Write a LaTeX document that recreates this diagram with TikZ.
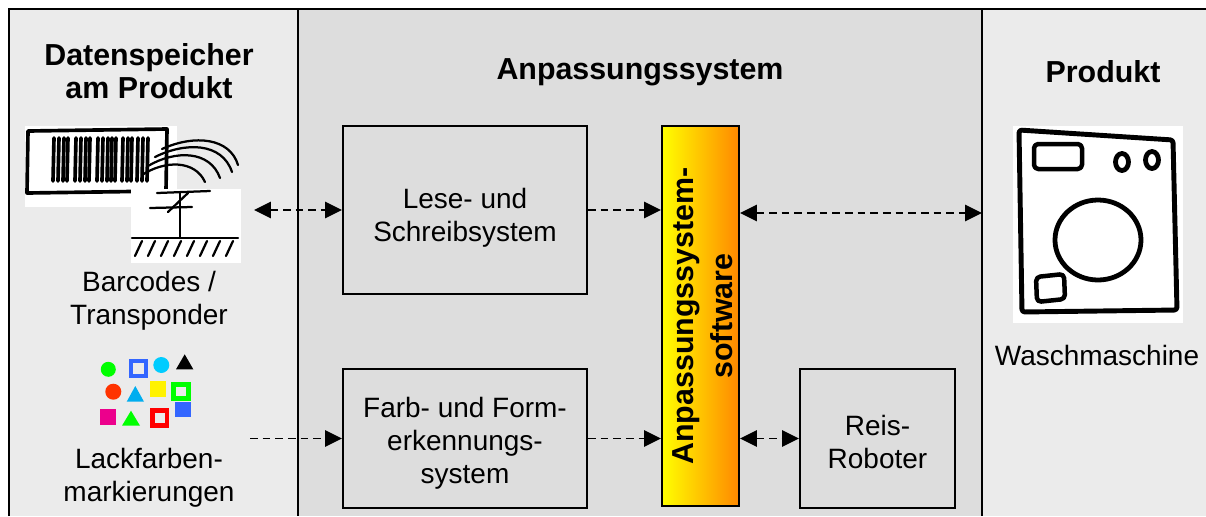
\documentclass[tikz,border=0pt]{standalone}
\usepackage{fontspec}
\setmainfont{Liberation Sans}
\usetikzlibrary{arrows.meta}

\definecolor{sidegray}{HTML}{EBEBEB}
\definecolor{midgray}{HTML}{DDDDDD}
\definecolor{swyellow}{HTML}{FFFF00}
\definecolor{sworange}{HTML}{FF8800}
\definecolor{mkgreen}{HTML}{00FF00}
\definecolor{mkblue}{HTML}{3366FF}
\definecolor{mkcyan}{HTML}{00CCFF}
\definecolor{mkred}{HTML}{FF3300}

\newcommand\normtxt{\fontsize{19.9}{23.4}\selectfont}
\newcommand\headtxt{\fontsize{21.6}{23.4}\selectfont\bfseries}

\begin{document}
\begin{tikzpicture}[x=0.025cm, y=-0.025cm,
  box/.style={draw, line width=1.4pt, fill=midgray, minimum width=6.1cm},
  head/.style={align=center, font=\headtxt, inner sep=0pt},
  lbl/.style={align=center, font=\normtxt, inner sep=0pt},
  dasharrow/.style={line width=1.4pt, dash pattern=on 5.5pt off 3.5pt,
    >={Triangle[length=12pt, width=11.5pt]}},
  sketch/.style={line width=2.1pt, line cap=round, line join=round}]
\useasboundingbox (0,0) rectangle (1206,516);

% columns
\fill[sidegray] (9,9) rectangle (298,516);
\fill[midgray] (298,9) rectangle (982,516);
\fill[sidegray] (982,9) rectangle (1206,516);
\draw[line width=1.4pt] (9,516) -- (9,9) -- (1206,9);
\draw[line width=1.4pt] (298,9) -- (298,516);
\draw[line width=1.4pt] (982,9) -- (982,516);

% headings
\node[head] (hdata) at (149,71) {Datenspeicher\\am Produkt};
\node[head] (hsys) at (640,72) {Anpassungssystem};
\node[head] (hprod) at (1103,72) {Produkt};

% barcode with transponder waves
\fill[white] (25,126) rectangle (177,207);
\draw[sketch, line width=2.6pt] (28,131) -- (167,129) -- (166,191) -- (27,193) -- cycle;
\foreach \bx in {53,58,63,67,75,80,85,89,97,102,107,111,115,122,127,131,137,142,147}
  \draw[sketch, line width=2.6pt] (\bx+1,138) -- (\bx,181);
\draw[sketch, line width=1.6pt] (142,175) .. controls (165,160) and (195,160) .. (205,182);
\draw[sketch, line width=1.6pt] (148,166) .. controls (175,150) and (210,150) .. (220,178);
\draw[sketch, line width=1.6pt] (155,157) .. controls (185,142) and (222,142) .. (232,172);
\draw[sketch, line width=1.6pt] (162,149) .. controls (195,134) and (230,138) .. (238,165);

% antenna
\fill[white] (131,189) rectangle (241,263);
\draw[sketch, line width=1.6pt] (180,192) -- (180,238);
\draw[sketch, line width=1.6pt] (157,193) -- (210,191);
\draw[sketch, line width=1.6pt] (150,208) -- (192,207);
\draw[sketch, line width=1.6pt] (168,212) -- (188,193);
\draw[sketch, line width=1.6pt] (132,238) -- (238,238);
\foreach \hx in {142,155,168,181,194,207,220,233}
  \draw[sketch, line width=1.6pt] (\hx,241) -- (\hx-7,256);
\coordinate (tagout) at (254,210);
\node[lbl] (lbarcode) at (149,301) {Barcodes /\\Transponder};

% paint marks
\fill[mkgreen] (108.3,369.3) circle[radius=7.5];
\draw[mkblue, line width=2.8pt] (131.3,361.3) rectangle (146.3,376.3);
\fill[mkcyan] (161.3,365) circle[radius=8];
\fill[black] (176,369.3) -- (184.7,354.3) -- (193.3,369.3) -- cycle;
\fill[mkred] (113.3,391.7) circle[radius=8];
\fill[cyan] (126.7,401.7) -- (135.3,386) -- (144,401.7) -- cycle;
\fill[yellow] (150,381) rectangle (165.7,396.7);
\fill[mkblue] (175.3,401.7) rectangle (190.7,417.3);
\draw[mkgreen, line width=3.2pt] (173.6,384.3) rectangle (188.4,398.7);
\fill[magenta] (100,409) rectangle (116,425);
\fill[mkgreen] (122,425.7) -- (131,410.7) -- (140,425.7) -- cycle;
\draw[red, line width=3.2pt] (152.3,410.6) rectangle (167,425.4);
\coordinate (lackout) at (250,438.5);
\node[lbl] (llack) at (149,478) {Lackfarben-\\markierungen};

% adaptation system
\node[box, minimum height=4.2cm] (lese) at (465,210) {};
\node[lbl] (lesetxt) at (465,218) {Lese- und\\Schreibsystem};
\node[box, minimum height=3.475cm] (farb) at (465,438.5) {};
\node[lbl] (farbtxt) at (465,443) {Farb- und Form-\\erkennungs-\\system};
\node[draw, line width=1.4pt, left color=swyellow, right color=sworange,
  minimum width=1.925cm, minimum height=9.5cm] (sw) at (700.5,316) {};
\node[rotate=90, align=center, inner sep=0pt,
  font=\fontsize{21.6}{28}\selectfont\bfseries] (swtext) at (703,316) {Anpassungssystem-\\software};
\node[box, minimum width=3.875cm, minimum height=3.475cm] (reis) at (877.5,438.5) {};
\node[lbl] (reistxt) at (877.5,442) {Reis-\\Roboter};

% product
\fill[white] (1013,126) rectangle (1183,323);
\draw[sketch, line width=3.5pt, rounded corners=2pt] (1019,130) -- (1173,140) -- (1177,310) -- (1022,312) -- cycle;
\draw[sketch, line width=3.2pt, rounded corners=3pt] (1034,144) rectangle (1082,169);
\draw[sketch, line width=3.4pt] (1122,162) circle[x radius=6.5, y radius=8.5];
\draw[sketch, line width=3.4pt] (1152,160) circle[x radius=6.5, y radius=8.5];
\draw[sketch, line width=3.4pt] (1098,240) circle[x radius=43, y radius=40];
\draw[sketch, line width=3.2pt, rounded corners=3pt] (1036,277) -- (1064,274) -- (1065,299) -- (1037,302) -- cycle;
\coordinate (prodin) at (982,213);
\node[lbl] (lwasch) at (1097,355) {Waschmaschine};

% connections
\draw[dasharrow, <->] (tagout) -- (lese.west);
\draw[dasharrow, ->] (lese.east) -- (lese -| sw.west);
\draw[dasharrow, <->] (prodin -| sw.east) -- (prodin);
\draw[dasharrow, ->] (lackout) -- (farb.west);
\draw[dasharrow, ->] (farb.east) -- (farb -| sw.west);
\draw[dasharrow, <->] (reis -| sw.east) -- (reis.west);
\end{tikzpicture}
\end{document}
